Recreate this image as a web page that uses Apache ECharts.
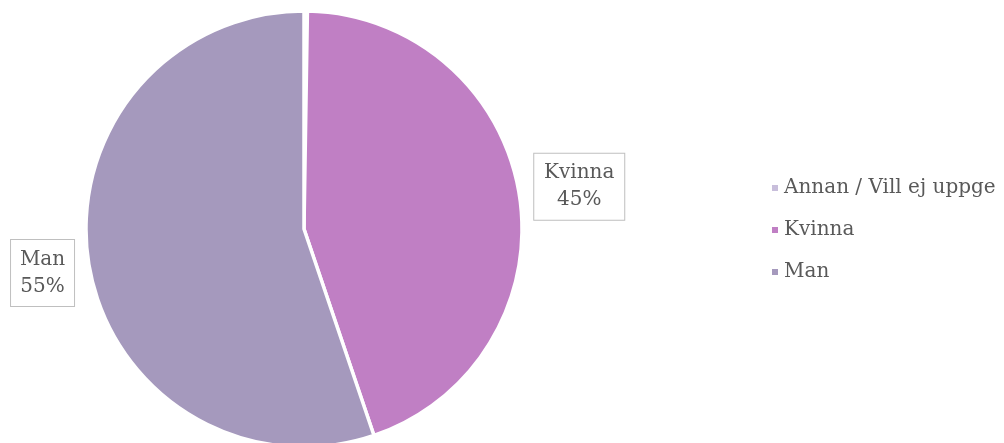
<!DOCTYPE html>
<html><head><meta charset="utf-8">
<script src="https://cdn.jsdelivr.net/npm/echarts@6/dist/echarts.min.js"></script>
<style>html,body{margin:0;padding:0;background:#fff}#c{width:1004px;height:443px}</style>
</head><body><div id="c"></div>
<script>
const categories = ['Annan / Vill ej uppge', 'Kvinna', 'Man'];
const values = [0.25, 44.55, 55.2];
const colors = ['#c8bedb', '#c07fc4', '#a599bd'];
const showLabel = [false, true, true];

const labelWidths = [0, 74, 47];
const labelShift = [[0, 0], [0, -7], [0, 7]];

const chart = echarts.init(document.getElementById('c'));
const FONT = 'DejaVu Serif';
chart.setOption({
  animation: false,
  color: colors,
  legend: {
    orient: 'vertical',
    left: 765,
    top: 173,
    itemWidth: 8,
    itemHeight: 8,
    itemGap: 22,
    icon: 'rect',
    textStyle: { fontFamily: FONT, fontSize: 20, color: '#595959' },
    data: categories
  },
  series: [{
    type: 'pie',
    center: [304, 229],
    radius: [0, 218],
    startAngle: 90,
    clockwise: true,
    avoidLabelOverlap: false,
    itemStyle: { borderColor: '#fff', borderWidth: 3.5 },
    label: {
      position: 'outside',
      fontFamily: FONT,
      fontSize: 20,
      color: '#595959',
      backgroundColor: '#fff',
      borderColor: '#bfbfbf',
      borderWidth: 1,
      padding: [6, 8, 6, 8],
      formatter: p => '{t|' + p.name + '}\n{t|' + Math.round(p.percent) + '%}',
      rich: { t: { fontFamily: FONT, fontSize: 20, color: '#595959', lineHeight: 27, align: 'center' } }
    },
    labelLine: { show: false, length: 10, length2: 0 },
    labelLayout: p => {
      const s = labelShift[p.dataIndex] || [0, 0];
      return { dx: s[0], dy: s[1] };
    },
    data: categories.map((n, i) => ({
      name: n, value: values[i],
      label: { show: showLabel[i], rich: { t: { width: labelWidths[i] } } }
    }))
  }]
});
</script></body></html>
